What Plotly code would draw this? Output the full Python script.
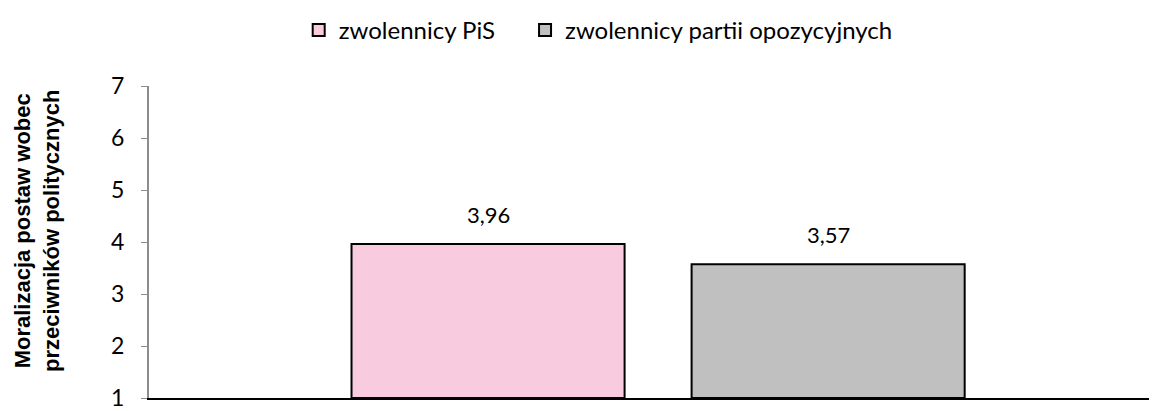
import plotly.graph_objects as go

# data
category = ["wszyscy"]
series_names = ["zwolennicy PiS", "zwolennicy partii opozycyjnych"]
pis_values = [3.96]
opposition_values = [3.57]
y_ticks = [1, 2, 3, 4, 5, 6, 7]
y_title = "Moralizacja postaw wobec<br>przeciwników politycznych"

colors = ["#F8CCDE", "#C0C0C0"]
font_main = "Lato, Open Sans, sans-serif"
legend_ids = ["legend", "legend2"]

fig = go.Figure()
for name, vals, col, lg in zip(series_names, [pis_values, opposition_values], colors, legend_ids):
    # bars grow from the bottom of the axis (1), not from 0
    fig.add_trace(go.Bar(
        x=category,
        y=[v - 1 for v in vals],
        base=1,
        name=name,
        legend=lg,
        marker=dict(color=col, line=dict(color="black", width=2)),
        hoverinfo="skip",
    ))

# value labels above the bars (comma decimal separator)
shifts = [-170, 170]
for vals, sh in zip([pis_values, opposition_values], shifts):
    fig.add_annotation(
        x=category[0], y=vals[0],
        text=f"{vals[0]:.2f}".replace(".", ","),
        showarrow=False,
        xshift=sh, yshift=14,
        yanchor="bottom",
        font=dict(family=font_main, size=22, color="black"),
    )

# y axis title, rotated
fig.add_annotation(
    text=y_title,
    xref="paper", yref="paper",
    x=0, y=0.5,
    xshift=-112, yshift=11,
    xanchor="center", yanchor="middle",
    textangle=-90,
    showarrow=False,
    font=dict(family="Liberation Sans, Arial, sans-serif", size=22, color="black", weight="bold"),
)

legend_style = dict(
    orientation="h",
    xanchor="left", xref="container",
    y=1.0, yanchor="top", yref="container",
    font=dict(family=font_main, size=24, color="black"),
    itemwidth=30,
    bgcolor="rgba(0,0,0,0)",
)

fig.update_layout(
    width=1149,
    height=403,
    margin=dict(l=141, r=0, t=78, b=11),
    plot_bgcolor="white",
    paper_bgcolor="white",
    barmode="group",
    bargap=0.332,
    bargroupgap=0.197,
    showlegend=True,
    legend=dict(x=0.253, **legend_style),
    legend2=dict(x=0.450, **legend_style),
    xaxis=dict(
        type="category",
        range=[-0.5, 0.49],
        showticklabels=False,
        showline=True,
        linecolor="black",
        linewidth=2,
        ticks="",
        showgrid=False,
    ),
    yaxis=dict(
        range=[1, 7],
        tickvals=y_ticks,
        ticktext=[str(v) for v in y_ticks],
        showline=True,
        linecolor="#8C8C8C",
        linewidth=2,
        ticks="outside",
        ticklen=6,
        tickcolor="#8C8C8C",
        tickwidth=1,
        ticklabelstandoff=12,
        ticklabeloverflow="allow",
        showgrid=False,
        zeroline=False,
        tickfont=dict(family=font_main, size=23, color="black"),
    ),
)

fig.write_html("out.html")
